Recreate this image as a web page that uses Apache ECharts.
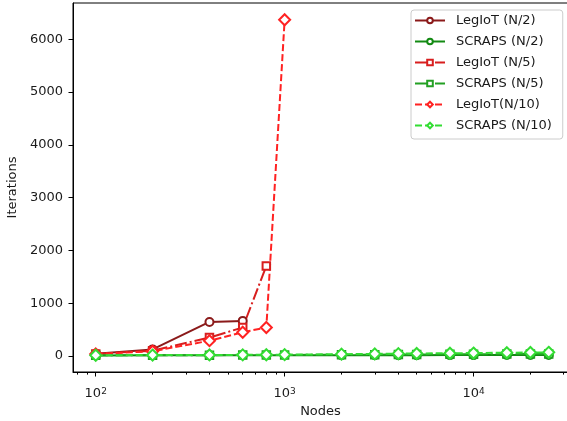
<!DOCTYPE html>
<html><head><meta charset="utf-8">
<script src="https://cdn.jsdelivr.net/npm/echarts@6/dist/echarts.min.js"></script>
<style>html,body{margin:0;padding:0;background:#fff}#c{width:567px;height:421px}</style>
</head><body><div id="c"></div>
<script>
const seriesNames = ['LegIoT (N/2)', 'SCRAPS (N/2)', 'LegIoT (N/5)', 'SCRAPS (N/5)', 'LegIoT(N/10)', 'SCRAPS (N/10)'];

const legiotN2Nodes = [100, 200, 400, 600];
const legiotN2 = [45, 125, 645, 665];
const legiotN5Nodes = [100, 200, 400, 600, 800];
const legiotN5 = [40, 100, 350, 540, 1705];
const legiotN10Nodes = [100, 200, 400, 600, 800, 1000];
const legiotN10 = [40, 90, 290, 450, 540, 6370];

const scrapsNodes = [100, 200, 400, 600, 800, 1000, 2000, 3000, 4000, 5000, 7500, 10000, 15000, 20000, 25000];
const scrapsN2 = [10, 12, 12, 13, 13, 14, 15, 15, 16, 16, 17, 17, 18, 18, 19];
const scrapsN5 = [12, 14, 16, 18, 19, 20, 24, 26, 28, 30, 32, 34, 36, 38, 40];
const scrapsN10 = [15, 18, 20, 22, 24, 26, 35, 40, 45, 48, 52, 56, 62, 66, 70];

const yTicks = [0, 1000, 2000, 3000, 4000, 5000, 6000];
const xMajorTicks = [100, 1000, 10000];
const xMinorTicks = [80, 90, 200, 300, 400, 500, 600, 700, 800, 900,
  2000, 3000, 4000, 5000, 6000, 7000, 8000, 9000, 20000, 30000];

const FONT = 'DejaVu Sans';
const TXT = '#1a1a1a';

function pairs(xs, ys) { return xs.map((x, i) => [x, ys[i]]); }

function mk(name, xs, ys, color, dash, symbol, size) {
  return {
    type: 'line', name: name, data: pairs(xs, ys),
    symbol: symbol, symbolSize: size, showSymbol: true,
    lineStyle: { color: color, width: 2, type: dash },
    itemStyle: { color: color, borderColor: color, borderWidth: 1.6 },
    emphasis: { disabled: true }, animation: false, clip: false
  };
}

const dashed = [7, 3];
const dashDot = [12, 3, 2, 3];

const chart = echarts.init(document.getElementById('c'), null, { renderer: 'canvas' });
chart.setOption({
  animation: false,
  backgroundColor: '#fff',
  grid: { left: 73, right: -1, top: 3, bottom: 49, show: true, borderColor: '#000', borderWidth: 1, outerBoundsMode: 'none', containLabel: false },
  legend: {
    data: seriesNames, orient: 'vertical', left: 411, top: 10,
    itemWidth: 30, itemHeight: 7, itemGap: 8, padding: [4, 11, 7, 3],
    borderColor: '#cccccc', borderWidth: 1, borderRadius: 3, backgroundColor: 'rgba(255,255,255,0.8)',
    textStyle: { fontFamily: FONT, fontSize: 13, color: TXT, padding: [0, 0, 0, 6] }
  },
  xAxis: [{
    type: 'log', logBase: 10, min: 75.8, max: 31623, position: 'bottom', gridIndex: 0,
    name: 'Nodes', nameLocation: 'middle', nameGap: 32,
    nameTextStyle: { fontFamily: FONT, fontSize: 13, color: TXT },
    axisLine: { show: true, onZero: false, lineStyle: { color: '#000', width: 1 } },
    axisTick: { show: true, customValues: xMajorTicks, length: 4.5, lineStyle: { color: '#000', width: 1 } },
    axisLabel: {
      customValues: xMajorTicks, margin: 15, color: TXT,
      formatter: v => '{b|10}{s|' + Math.round(Math.log10(v)) + '}',
      rich: {
        b: { fontFamily: FONT, fontSize: 13, color: TXT, lineHeight: 13, verticalAlign: 'bottom', padding: [5, 0, 0, 0] },
        s: { fontFamily: FONT, fontSize: 9, color: TXT, lineHeight: 9, verticalAlign: 'top' }
      }
    },
    splitLine: { show: false }, minorTick: { show: false }
  }, {
    type: 'log', logBase: 10, min: 75.8, max: 31623, position: 'bottom', gridIndex: 0, offset: 0,
    axisLine: { show: false, onZero: false },
    axisTick: { show: true, customValues: xMinorTicks, length: 2.6, lineStyle: { color: '#000', width: 1 } },
    axisLabel: { show: false }, splitLine: { show: false }
  }],
  yAxis: {
    type: 'value', min: -303, max: 6688,
    name: 'Iterations', nameLocation: 'middle', nameGap: 34,
    nameTextStyle: { fontFamily: FONT, fontSize: 13, color: TXT },
    axisLine: { show: true, onZero: false, lineStyle: { color: '#000', width: 1 } },
    axisTick: { show: true, customValues: yTicks, length: 4.5, lineStyle: { color: '#000', width: 1 } },
    axisLabel: { customValues: yTicks, margin: 10, fontFamily: FONT, fontSize: 13, color: TXT, formatter: v => String(v) },
    splitLine: { show: false }
  },
  series: [
    mk(seriesNames[0], legiotN2Nodes, legiotN2, '#8b1a1a', 'solid', 'emptyCircle', 8),
    mk(seriesNames[1], scrapsNodes, scrapsN2, '#138a13', 'solid', 'emptyCircle', 8),
    mk(seriesNames[2], legiotN5Nodes, legiotN5, '#d81e1e', dashDot, 'emptyRect', 7.5),
    mk(seriesNames[3], scrapsNodes, scrapsN5, '#23a023', dashDot, 'emptyRect', 7.5),
    mk(seriesNames[4], legiotN10Nodes, legiotN10, '#ff2222', dashed, 'emptyDiamond', 11),
    mk(seriesNames[5], scrapsNodes, scrapsN10, '#33dd33', dashed, 'emptyDiamond', 11)
  ]
});
</script></body></html>
